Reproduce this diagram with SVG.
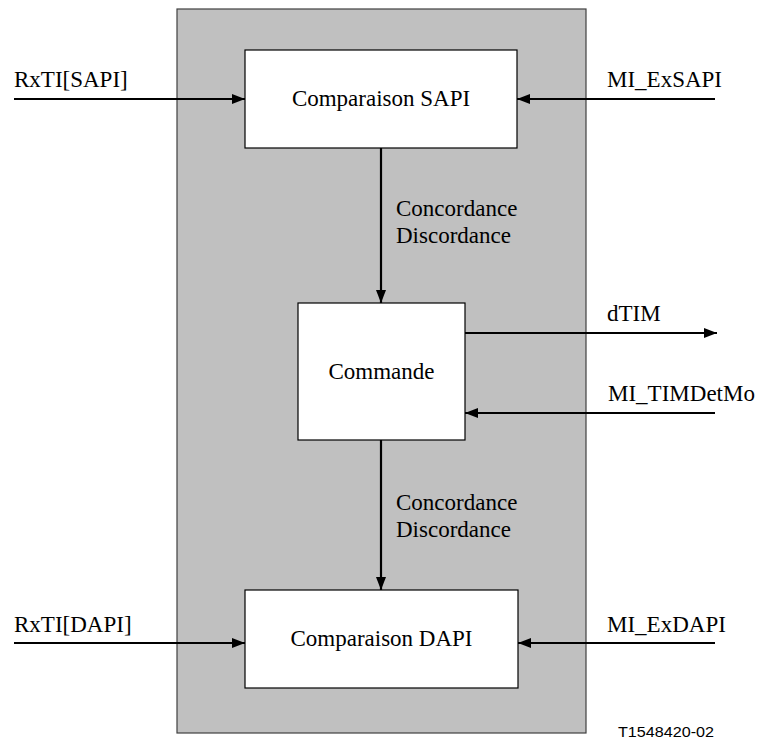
<svg xmlns="http://www.w3.org/2000/svg" width="760" height="742" viewBox="0 0 760 742">
  <style>
    .t { font-family: "Liberation Serif", "Times New Roman", serif; font-size: 23px; fill: #000; }
    .box { fill: #fff; stroke: #000; stroke-width: 1.2; }
    .conn { stroke: #000; stroke-width: 2.2; fill: none; }
    .code { font-family: "Liberation Sans", Arial, sans-serif; font-size: 15px; fill: #000; }
  </style>
  <defs>
    <marker id="arr" markerUnits="userSpaceOnUse" markerWidth="14" markerHeight="10" refX="13" refY="5" orient="auto">
      <path d="M0,0 L13,5 L0,10 z" fill="#000"/>
    </marker>
  </defs>
  <g id="frame">
    <rect x="177" y="9" width="409" height="724" fill="#c0c0c0" stroke="#404040" stroke-width="1.2"/>
  </g>
  <g id="sapi">
    <rect class="box" x="245" y="50" width="272" height="98"/>
    <text class="t" x="381" y="106" text-anchor="middle">Comparaison SAPI</text>
  </g>
  <g id="commande">
    <rect class="box" x="298" y="303" width="167" height="137"/>
    <text class="t" x="381.5" y="379" text-anchor="middle">Commande</text>
  </g>
  <g id="dapi">
    <rect class="box" x="245" y="590" width="273" height="98"/>
    <text class="t" x="381.5" y="646" text-anchor="middle">Comparaison DAPI</text>
  </g>
  <g id="connectors">
    <line class="conn" x1="14" y1="99" x2="245" y2="99" marker-end="url(#arr)"/>
    <line class="conn" x1="715" y1="99" x2="517" y2="99" marker-end="url(#arr)"/>
    <line class="conn" x1="381" y1="148" x2="381" y2="303" marker-end="url(#arr)"/>
    <line class="conn" x1="465" y1="333" x2="717" y2="333" marker-end="url(#arr)"/>
    <line class="conn" x1="715" y1="413" x2="465" y2="413" marker-end="url(#arr)"/>
    <line class="conn" x1="381" y1="440" x2="381" y2="590" marker-end="url(#arr)"/>
    <line class="conn" x1="14" y1="643" x2="245" y2="643" marker-end="url(#arr)"/>
    <line class="conn" x1="715" y1="643" x2="518" y2="643" marker-end="url(#arr)"/>
  </g>
  <g id="labels">
    <text class="t" x="14" y="87">RxTI[SAPI]</text>
    <text class="t" x="607" y="87">MI_ExSAPI</text>
    <text class="t" x="396" y="216">Concordance</text>
    <text class="t" x="396" y="243">Discordance</text>
    <text class="t" x="607" y="321">dTIM</text>
    <text class="t" x="608" y="401">MI_TIMDetMo</text>
    <text class="t" x="396" y="510">Concordance</text>
    <text class="t" x="396" y="537">Discordance</text>
    <text class="t" x="14" y="632">RxTI[DAPI]</text>
    <text class="t" x="607" y="632">MI_ExDAPI</text>
    <text class="code" x="618" y="737" textLength="96" lengthAdjust="spacingAndGlyphs">T1548420-02</text>
  </g>
</svg>
